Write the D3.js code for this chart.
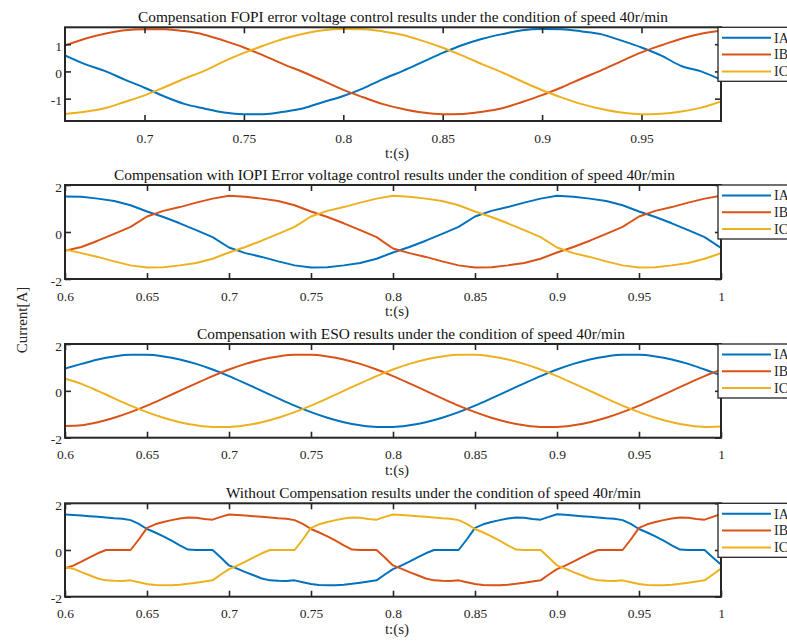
<!DOCTYPE html>
<html>
<head>
<meta charset="utf-8">
<script src="https://cdn.jsdelivr.net/npm/d3@7"></script>
<style>
  body { margin: 0; background: #fff; }
  svg { display: block; font-family: "Liberation Serif", "Times New Roman", serif; }
</style>
</head>
<body>
<svg id="chart" width="787" height="642"></svg>
<script>
// ---- data ----
const titles = [
  "Compensation FOPI error voltage control results under the condition of speed 40r/min",
  "Compensation with IOPI Error voltage control results under the condition of speed 40r/min",
  "Compensation with ESO results under the condition of speed 40r/min",
  "Without Compensation results under the condition of speed 40r/min"
];
const seriesNames = ["IA", "IB", "IC"];
const seriesColors = ["#0072BD", "#D95319", "#EDB120"];

const xTicksTop = [0.7, 0.75, 0.8, 0.85, 0.9, 0.95];
const xTicks = [0.6, 0.65, 0.7, 0.75, 0.8, 0.85, 0.9, 0.95, 1];
const yTicksTop = [-1, 0, 1];
const yTicks = [-2, 0, 2];

// panel 1 (FOPI), 0.66 .. 0.99 s
const time1 = [0.66,0.67,0.68,0.69,0.70,0.71,0.72,0.73,0.74,0.75,0.76,0.77,0.78,0.79,0.80,0.81,0.82,
  0.83,0.84,0.85,0.86,0.87,0.88,0.89,0.90,0.91,0.92,0.93,0.94,0.95,0.96,0.97,0.98,0.99];
const ia1 = [0.59,0.27,0.02,-0.30,-0.60,-0.92,-1.19,-1.36,-1.51,-1.57,-1.57,-1.48,-1.35,-1.12,-0.90,-0.62,-0.28,
  0.02,0.35,0.68,0.97,1.20,1.37,1.51,1.56,1.55,1.47,1.36,1.13,0.88,0.58,0.20,0.00,-0.31];
const ib1 = [0.95,1.20,1.38,1.51,1.55,1.55,1.48,1.35,1.13,0.88,0.58,0.26,-0.03,-0.35,-0.68,-0.95,-1.20,
  -1.38,-1.51,-1.57,-1.56,-1.48,-1.35,-1.12,-0.87,-0.58,-0.26,0.05,0.38,0.70,0.96,1.20,1.38,1.49];
const ic1 = [-1.56,-1.48,-1.35,-1.12,-0.88,-0.58,-0.27,0.02,0.37,0.68,0.95,1.20,1.38,1.51,1.56,1.55,1.47,
  1.34,1.12,0.87,0.58,0.26,-0.04,-0.37,-0.69,-0.96,-1.20,-1.38,-1.51,-1.57,-1.55,-1.47,-1.33,-1.10];

// panels 2 and 3, 0.6 .. 1.0 s
const time2 = [0.60,0.61,0.62,0.63,0.64,0.65,0.66,0.67,0.68,0.69,0.70,0.71,0.72,0.73,0.74,0.75,0.76,0.77,0.78,0.79,
  0.80,0.81,0.82,0.83,0.84,0.85,0.86,0.87,0.88,0.89,0.90,0.91,0.92,0.93,0.94,0.95,0.96,0.97,0.98,0.99,1.00];

// IOPI
const ia2 = [1.51,1.50,1.42,1.32,1.14,0.87,0.64,0.37,0.08,-0.22,-0.66,-0.90,-1.06,-1.25,-1.42,-1.51,-1.50,-1.42,-1.32,-1.14,
  -0.87,-0.64,-0.37,-0.08,0.22,0.66,0.90,1.06,1.25,1.42,1.54,1.50,1.42,1.32,1.14,0.87,0.64,0.37,0.08,-0.22,-0.68];
const ib2 = [-0.80,-0.64,-0.37,-0.08,0.22,0.66,0.90,1.06,1.25,1.42,1.54,1.50,1.42,1.32,1.14,0.87,0.64,0.37,0.08,-0.22,
  -0.70,-0.90,-1.06,-1.25,-1.42,-1.51,-1.50,-1.42,-1.32,-1.14,-0.87,-0.64,-0.37,-0.08,0.22,0.66,0.90,1.06,1.25,1.42,1.54];
const ic2 = [-0.74,-0.90,-1.06,-1.25,-1.42,-1.51,-1.50,-1.42,-1.32,-1.14,-0.87,-0.64,-0.37,-0.08,0.22,0.66,0.90,1.06,1.25,1.42,
  1.54,1.50,1.42,1.32,1.14,0.87,0.64,0.37,0.08,-0.22,-0.66,-0.90,-1.06,-1.25,-1.42,-1.51,-1.50,-1.42,-1.32,-1.14,-0.90];

// ESO
const ia3 = [0.95,1.15,1.34,1.47,1.54,1.54,1.47,1.34,1.15,0.91,0.63,0.32,0.00,-0.32,-0.63,-0.91,-1.15,-1.34,-1.47,-1.54,
  -1.54,-1.47,-1.34,-1.15,-0.91,-0.63,-0.32,0.00,0.32,0.63,0.91,1.15,1.34,1.47,1.54,1.54,1.47,1.34,1.15,0.91,0.66];
const ib3 = [-1.50,-1.47,-1.34,-1.15,-0.91,-0.63,-0.32,0.00,0.32,0.63,0.91,1.15,1.34,1.47,1.54,1.54,1.47,1.34,1.15,0.91,
  0.63,0.32,0.00,-0.32,-0.63,-0.91,-1.15,-1.34,-1.47,-1.54,-1.54,-1.47,-1.34,-1.15,-0.91,-0.63,-0.32,0.00,0.32,0.63,0.90];
const ic3 = [0.52,0.30,0.00,-0.32,-0.63,-0.91,-1.15,-1.34,-1.47,-1.54,-1.54,-1.47,-1.34,-1.15,-0.91,-0.63,-0.32,0.00,0.32,0.63,
  0.91,1.15,1.34,1.47,1.54,1.54,1.47,1.34,1.15,0.91,0.63,0.32,0.00,-0.32,-0.63,-0.91,-1.15,-1.34,-1.47,-1.54,-1.52];

// panel 4 (no compensation), 0.6 .. 1.0 s every 5 ms
const time4 = [0.600,0.605,0.610,0.615,0.620,0.625,0.630,0.635,0.640,0.645,0.650,0.655,0.660,0.665,0.670,0.675,0.680,0.685,
  0.690,0.695,0.700,0.705,0.710,0.715,0.720,0.725,0.730,0.735,0.740,0.745,0.750,0.755,0.760,0.765,0.770,0.775,0.780,0.785,
  0.790,0.795,0.800,0.805,0.810,0.815,0.820,0.825,0.830,0.835,0.840,0.845,0.850,0.855,0.860,0.865,0.870,0.875,0.880,0.885,
  0.890,0.895,0.900,0.905,0.910,0.915,0.920,0.925,0.930,0.935,0.940,0.945,0.950,0.955,0.960,0.965,0.970,0.975,0.980,0.985,
  0.990,0.995,1.000];
const ia4 = [1.52,1.50,1.48,1.45,1.42,1.39,1.36,1.34,1.28,1.12,0.90,0.75,0.58,0.40,0.20,0.02,0.00,0.00,
  0.00,-0.32,-0.66,-0.80,-0.95,-1.08,-1.22,-1.30,-1.32,-1.33,-1.30,-1.38,-1.46,-1.50,-1.51,-1.51,-1.49,-1.45,-1.40,-1.35,
  -1.30,-1.05,-0.82,-0.67,-0.50,-0.32,-0.14,0.00,0.00,0.00,0.00,0.45,0.95,1.10,1.20,1.28,1.35,1.39,1.38,1.33,
  1.30,1.42,1.53,1.51,1.48,1.45,1.42,1.39,1.36,1.34,1.28,1.12,0.90,0.75,0.58,0.40,0.20,0.02,0.00,0.00,
  0.00,-0.32,-0.62];
const ib4 = [-0.78,-0.67,-0.50,-0.32,-0.14,0.00,0.00,0.00,0.00,0.45,0.95,1.10,1.20,1.28,1.35,1.39,1.38,1.33,
  1.30,1.42,1.52,1.50,1.48,1.45,1.42,1.39,1.36,1.34,1.28,1.12,0.90,0.75,0.58,0.40,0.20,0.02,0.00,0.00,
  0.00,-0.32,-0.66,-0.80,-0.95,-1.08,-1.22,-1.30,-1.32,-1.33,-1.30,-1.38,-1.46,-1.50,-1.51,-1.51,-1.49,-1.45,-1.40,-1.35,
  -1.30,-1.05,-0.82,-0.67,-0.50,-0.32,-0.14,0.00,0.00,0.00,0.00,0.45,0.95,1.10,1.20,1.28,1.35,1.39,1.38,1.33,
  1.30,1.42,1.54];
const ic4 = [-0.74,-0.80,-0.95,-1.08,-1.22,-1.30,-1.32,-1.33,-1.30,-1.38,-1.46,-1.50,-1.51,-1.51,-1.49,-1.45,-1.40,-1.35,
  -1.30,-1.05,-0.82,-0.67,-0.50,-0.32,-0.14,0.00,0.00,0.00,0.00,0.45,0.95,1.10,1.20,1.28,1.35,1.39,1.38,1.33,
  1.30,1.42,1.52,1.50,1.48,1.45,1.42,1.39,1.36,1.34,1.28,1.12,0.90,0.75,0.58,0.40,0.20,0.02,0.00,0.00,
  0.00,-0.32,-0.66,-0.80,-0.95,-1.08,-1.22,-1.30,-1.32,-1.33,-1.30,-1.38,-1.46,-1.50,-1.51,-1.51,-1.49,-1.45,-1.40,-1.35,
  -1.30,-1.05,-0.80];

// ---- layout ----
const svg = d3.select("#chart");
const axisColor = "#262626";
const left = 65, right = 721;

const panels = [
  {title: titles[0], titleX: 138, titleW: 530, top: 27.3, bottom: 121, xDomain: [0.66, 0.99], yDomain: [-1.82, 1.62],
   time: time1, series: [ia1, ib1, ic1], xT: xTicksTop, yT: yTicksTop, curve: d3.curveMonotoneX},
  {title: titles[1], titleX: 114, titleW: 561, top: 185, bottom: 279, xDomain: [0.6, 1], yDomain: [-2, 2],
   time: time2, series: [ia2, ib2, ic2], xT: xTicks, yT: yTicks, curve: d3.curveLinear},
  {title: titles[2], titleX: 197, titleW: 428, top: 344, bottom: 437.7, xDomain: [0.6, 1], yDomain: [-2, 2],
   time: time2, series: [ia3, ib3, ic3], xT: xTicks, yT: yTicks, curve: d3.curveMonotoneX},
  {title: titles[3], titleX: 226, titleW: 415, top: 503.3, bottom: 596.7, xDomain: [0.6, 1], yDomain: [-2, 2],
   time: time4, series: [ia4, ib4, ic4], xT: xTicks, yT: yTicks, curve: d3.curveLinear}
];

panels.forEach((p, i) => {
  const x = d3.scaleLinear().domain(p.xDomain).range([left, right]),
        y = d3.scaleLinear().domain(p.yDomain).range([p.bottom, p.top]),
        g = svg.append("g");

  g.append("clipPath")
    .attr("id", "clip" + i)
    .append("rect")
    .attr("x", left).attr("y", p.top)
    .attr("width", right - left).attr("height", p.bottom - p.top);

  // current traces
  const line = d3.line().curve(p.curve);
  p.series.forEach((vals, k) => {
    g.append("path")
      .attr("clip-path", `url(#clip${i})`)
      .attr("d", line(vals.map((v, j) => [x(p.time[j]), y(v)])))
      .attr("fill", "none")
      .attr("stroke", seriesColors[k])
      .attr("stroke-width", 2)
      .attr("stroke-linejoin", "round");
  });

  // axes, ticks pointing inward on all four sides
  const fmt = d => String(d);
  g.append("g")
    .attr("transform", `translate(0,${p.bottom})`)
    .call(d3.axisBottom(x).tickValues(p.xT).tickFormat(fmt).tickSizeInner(-6).tickSizeOuter(0).tickPadding(12));
  g.append("g")
    .attr("transform", `translate(0,${p.top})`)
    .call(d3.axisTop(x).tickValues(p.xT).tickFormat("").tickSizeInner(-6).tickSizeOuter(0));
  g.append("g")
    .attr("class", "yaxis")
    .attr("transform", `translate(${left},0)`)
    .call(d3.axisLeft(y).tickValues(p.yT).tickFormat(fmt).tickSizeInner(-6).tickSizeOuter(0).tickPadding(3));
  g.append("g")
    .attr("transform", `translate(${right},0)`)
    .call(d3.axisRight(y).tickValues(p.yT).tickFormat("").tickSizeInner(-6).tickSizeOuter(0));

  g.selectAll(".domain").remove();
  g.selectAll(".tick line").attr("stroke", axisColor).attr("stroke-width", 1.6);
  g.selectAll(".tick text")
    .attr("fill", axisColor)
    .style("font-size", "13.5px")
    .style("font-family", "'Liberation Serif', serif");
  g.selectAll(".yaxis .tick text").attr("dy", "0.45em");

  g.append("rect")
    .attr("x", left).attr("y", p.top)
    .attr("width", right - left).attr("height", p.bottom - p.top)
    .attr("fill", "none")
    .attr("stroke", axisColor)
    .attr("stroke-width", 2);

  g.append("text")
    .attr("x", p.titleX)
    .attr("y", p.top - 5.5)
    .attr("textLength", p.titleW)
    .attr("lengthAdjust", "spacingAndGlyphs")
    .style("font-size", "14.5px")
    .attr("fill", "#111")
    .text(p.title);

  g.append("text")
    .attr("x", 397)
    .attr("y", p.bottom + 37)
    .attr("text-anchor", "middle")
    .style("font-size", "15px")
    .attr("fill", axisColor)
    .text("t:(s)");

  // legend box
  const lg = g.append("g").attr("transform", `translate(718,${p.top})`);
  lg.append("rect")
    .attr("width", 90).attr("height", 54)
    .attr("fill", "#fff")
    .attr("stroke", axisColor)
    .attr("stroke-width", 1.3);
  seriesNames.forEach((name, k) => {
    const ly = 10.5 + k * 16.8;
    lg.append("line")
      .attr("x1", 4).attr("x2", 53)
      .attr("y1", ly).attr("y2", ly)
      .attr("stroke", seriesColors[k])
      .attr("stroke-width", 2);
    lg.append("text")
      .attr("x", 56).attr("y", ly)
      .attr("dy", "0.35em")
      .style("font-size", "14px")
      .attr("fill", axisColor)
      .text(name);
  });
});

svg.append("text")
  .attr("transform", "translate(27,320) rotate(-90)")
  .attr("text-anchor", "middle")
  .style("font-size", "15px")
  .attr("fill", axisColor)
  .text("Current[A]");
</script>
</body>
</html>
